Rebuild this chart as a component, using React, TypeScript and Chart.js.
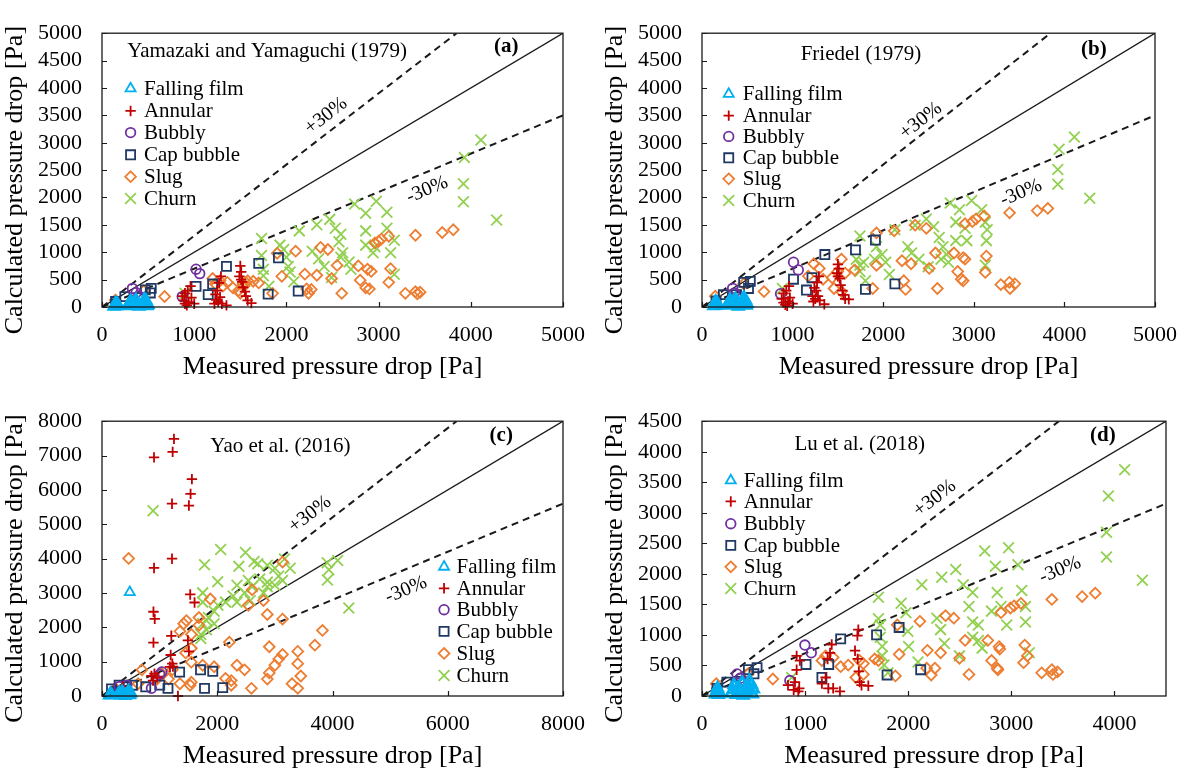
import React, { useEffect, useRef } from 'react';
import { Chart, registerables } from 'chart.js';

Chart.register(...registerables);

const FONT = '"Liberation Serif", "Times New Roman", serif';
Chart.defaults.font.family = FONT;
Chart.defaults.color = '#000';

type Pt = [number, number];

// ---------------- Series definitions ----------------
const seriesLabels = ['Falling film', 'Annular', 'Bubbly', 'Cap bubble', 'Slug', 'Churn'];
const seriesColors = ['#00B0F0', '#C00000', '#7030A0', '#1F3864', '#ED7D31', '#92D050'];
const seriesStyles = ['triangle', 'cross', 'circle', 'rect', 'rectRot', 'crossRot'];
const seriesRadius = [5.8, 5.2, 4.8, 6.4, 5.4, 7.6];

// ---------------- Panel (a) Yamazaki and Yamaguchi (1979) ----------------
const fallingA: Pt[] = [[130,10],[140,40],[150,70],[160,20],[170,50],[280,20],[300,60],[310,110],[330,30],[350,80],[370,130],[390,40],[400,10],[440,30],[450,90],[460,140],[470,60],[480,110],[490,20],[500,40]];
const annularA: Pt[] = [[870,200],[890,120],[900,60],[920,30],[940,90],[930,300],[960,380],[900,250],[970,170],[1000,60],[1220,60],[1240,130],[1260,90],[1280,180],[1300,60],[1350,30],[1250,300],[1270,440],[1290,560],[1230,230],[1500,750],[1510,640],[1490,560],[1520,460],[1530,360],[1560,200],[1580,120],[1620,70],[1550,280],[1510,500]];
const bubblyA: Pt[] = [[330,340],[370,260],[400,200],[870,190],[1020,690],[1060,610]];
const capA: Pt[] = [[147,100],[248,189],[401,172],[470,313],[534,340],[524,256],[1020,376],[1152,225],[1200,420],[1350,742],[1700,798],[1914,899],[1802,236],[2128,292]];
const slugA: Pt[] = [[144,124],[453,292],[679,191],[1200,520],[1230,420],[1280,480],[1310,380],[1360,450],[1420,350],[1480,300],[1500,250],[1530,420],[1540,380],[1560,450],[1580,480],[1640,470],[1700,440],[1850,250],[1900,980],[1950,560],[2100,1020],[2200,600],[2220,330],[2240,250],[2270,320],[2330,580],[2370,1090],[2450,1050],[2490,520],[2550,760],[2600,250],[2780,750],[2800,490],[2860,350],[2880,690],[2900,330],[2920,650],[2960,1170],[3000,1200],[3030,1240],[3110,1290],[3110,450],[3130,700],[3290,250],[3400,1310],[3400,280],[3420,240],[3450,270],[3690,1360],[3810,1410]];
const churnA: Pt[] = [[4110,3050],[3930,2730],[3920,2250],[3920,1920],[4280,1590],[2740,1880],[2975,1930],[2860,1710],[3090,1730],[2470,1600],[2330,1500],[2140,1390],[1730,1250],[1930,1130],[1970,1050],[2530,1440],[2590,1330],[2570,1190],[2610,990],[2590,910],[2680,820],[2700,690],[2860,1390],[2860,1130],[2960,1100],[2940,990],[3090,1440],[3170,1220],[3130,990],[3170,600],[2280,1020],[2350,880],[2410,740],[2490,540],[2020,740],[2040,640],[2080,460],[2000,910],[1730,940],[1750,690],[1750,570],[1810,380],[900,250]];

// ---------------- Panel (b) Friedel (1979) ----------------
const fallingB: Pt[] = [[130,20],[140,60],[150,100],[160,30],[170,70],[280,30],[300,80],[310,130],[330,40],[350,100],[370,150],[390,60],[400,10],[440,40],[450,110],[460,170],[470,80],[480,130],[490,30],[500,60]];
const annularB: Pt[] = [[880,150],[900,80],[920,40],[940,20],[950,100],[930,300],[960,380],[900,250],[970,170],[1000,60],[1230,100],[1250,150],[1280,200],[1300,120],[1350,50],[1260,300],[1270,450],[1290,560],[1220,200],[1240,350],[1500,780],[1510,700],[1490,620],[1520,520],[1530,400],[1560,220],[1580,150],[1620,140],[1550,300],[1500,560]];
const bubblyB: Pt[] = [[338,340],[358,254],[867,242],[1010,817],[1063,676]];
const capB: Pt[] = [[155,113],[236,225],[379,225],[460,451],[533,468],[513,338],[1010,507],[1153,310],[1214,535],[1356,958],[1694,1043],[1914,1223],[1804,321],[2129,423]];
const slugB: Pt[] = [[147,197],[460,423],[684,282],[1173,564],[1234,789],[1295,705],[1336,507],[1437,535],[1457,338],[1498,648],[1539,873],[1539,282],[1580,620],[1685,676],[1885,338],[1926,761],[1926,1353],[2121,1392],[2207,845],[2227,479],[2247,321],[2308,789],[2353,1494],[2476,1437],[2508,705],[2577,986],[2598,338],[2781,986],[2822,648],[2862,507],[2883,479],[2883,902],[2903,873],[2903,1522],[2984,1561],[3025,1607],[3115,1663],[3127,631],[3139,930],[3298,410],[3392,451],[3400,338],[3395,1720],[3453,423],[3700,1760],[3817,1800]];
const churnB: Pt[] = [[4110,3105],[3941,2880],[3927,2510],[3927,2240],[4280,1985],[2740,1900],[2976,1945],[2842,1776],[3086,1776],[3127,1550],[3147,1409],[3139,1212],[3127,761],[2801,1550],[2903,1437],[2923,1212],[2801,1212],[2476,1607],[2353,1494],[2129,1409],[1743,1296],[1926,1099],[1987,958],[2027,817],[2068,592],[1905,873],[1783,817],[1743,648],[1804,479],[1702,873],[1743,761],[2272,1099],[2313,986],[2394,873],[2496,733],[2557,1465],[2618,1268],[2659,1099],[2700,958],[2638,873],[2720,817],[888,338]];

// ---------------- Panel (c) Yao et al. (2016) ----------------
const fallingC: Pt[] = [[130,20],[150,60],[170,30],[280,40],[300,90],[330,20],[350,120],[380,50],[400,10],[440,60],[460,140],[480,30],[500,80],[482,3020]];
const annularC: Pt[] = [[1249,7485],[1226,7107],[903,6946],[1560,6315],[1537,5884],[1215,5598],[1508,5544],[903,3728],[1215,3997],[1531,2957],[1606,2722],[893,2453],[915,2245],[893,1555],[1203,1752],[1491,1617],[1508,1302],[1192,1194],[1232,854],[1220,941],[858,585],[886,450],[957,538],[910,650],[1180,850],[1318,0],[360,270]];
const bubblyC: Pt[] = [[297,269],[429,314],[858,224],[1002,628],[1040,700]];
const capC: Pt[] = [[165,206],[231,134],[297,314],[429,269],[528,314],[759,269],[1002,315],[1145,224],[1347,693],[1710,763],[1922,720],[1779,224],[2095,243]];
const slugC: Pt[] = [[462,4005],[1880,2823],[1418,2106],[1464,2195],[1352,1882],[1550,1792],[1682,2285],[1682,2061],[1451,1254],[1550,1389],[1550,986],[693,762],[1748,896],[1946,851],[2144,511],[2210,1568],[2342,896],[2474,762],[2593,224],[2243,314],[2243,448],[2869,2374],[2903,1434],[2869,493],[2903,672],[3000,896],[3066,1075],[3133,1210],[3133,2240],[3694,1479],[3826,1909],[3397,1299],[3397,941],[3450,582],[3397,224],[3298,358],[2803,2778],[2606,3091],[2540,2643],[3133,3898],[1154,493],[1022,672],[957,493],[231,224],[1220,762],[1352,358],[1530,314],[1550,403],[627,358]];
const churnC: Pt[] = [[886,5391],[2059,4267],[2490,4178],[1779,3819],[2375,3774],[2639,3916],[2704,3853],[2869,3808],[3000,3719],[3166,3987],[2008,3324],[2342,3226],[2540,3360],[2737,3405],[2869,3315],[3000,3226],[3133,3360],[2869,3181],[2606,3181],[2474,3002],[2276,2912],[2144,2733],[2012,2643],[1946,2464],[1847,2285],[1748,3002],[1748,2733],[1748,2106],[1814,1927],[1715,1792],[1715,1676],[1814,2195],[1946,2106],[2342,2733],[2573,2778],[2803,3002],[3066,3495],[3265,3719],[3908,3881],[3938,3674],[3912,3378],[4090,3943],[4283,2561]];

// ---------------- Panel (d) Lu et al. (2018) ----------------
const fallingD: Pt[] = [[130,30],[140,80],[150,130],[160,20],[170,60],[280,40],[300,100],[310,180],[330,20],[350,130],[370,70],[390,220],[400,10],[440,40],[450,150],[460,250],[470,90],[480,190],[490,30],[500,110]];
const annularD: Pt[] = [[834,177],[889,101],[902,227],[918,429],[950,580],[918,657],[934,76],[943,126],[1163,202],[1199,303],[1225,126],[1242,707],[1258,843],[1218,607],[1272,126],[1338,76],[1516,1086],[1507,989],[1484,742],[1510,607],[1521,404],[1529,227],[1547,177],[1613,167]];
const bubblyD: Pt[] = [[340,361],[370,290],[852,253],[998,834],[1060,708]];
const capD: Pt[] = [[146,126],[241,227],[377,238],[450,430],[534,465],[504,364],[1009,516],[1163,303],[1229,516],[1345,935],[1693,1001],[1912,1122],[1795,344],[2121,430]];
const slugD: Pt[] = [[3814,1684],[3686,1628],[3393,1582],[3093,1517],[3027,1476],[2991,1441],[2900,1365],[2772,910],[2881,809],[2888,768],[2808,581],[2863,455],[2870,430],[3130,834],[3119,546],[3156,657],[3294,379],[3393,430],[3404,354],[3448,394],[2589,354],[2552,910],[2497,617],[2442,1274],[2362,1315],[2113,1223],[2186,748],[2314,708],[2223,344],[2179,455],[2259,455],[1912,683],[1894,1163],[1876,329],[1711,581],[1675,607],[1565,531],[1565,354],[1492,303],[1529,581],[1199,657],[1163,581],[1272,632],[1345,480],[1418,506],[687,278],[450,364],[139,202]];
const churnD: Pt[] = [[4099,3706],[3941,3276],[3923,2680],[3923,2275],[4271,1896],[2742,2376],[2973,2427],[3064,2149],[2845,2124],[2461,2073],[2534,1820],[2325,1946],[2132,1820],[2625,1694],[2863,1694],[3101,1729],[3137,1466],[3137,1213],[3174,708],[2589,1466],[2808,1390],[2900,1466],[2955,1163],[2625,1213],[2680,1163],[2625,961],[2680,910],[2717,784],[2497,657],[2314,1087],[2351,860],[2278,1274],[1931,1517],[1978,1365],[1996,1062],[2004,809],[2095,556],[1711,1618],[1711,1264],[1729,1163],[1729,961],[1748,809],[1748,657],[1766,506],[1803,379],[870,303]];

// ---------------- Axis ticks ----------------
const ticks5000 = [0, 1000, 2000, 3000, 4000, 5000];
const ticksY5000 = [0, 500, 1000, 1500, 2000, 2500, 3000, 3500, 4000, 4500, 5000];
const ticks8000 = [0, 2000, 4000, 6000, 8000];
const ticksY8000 = [0, 1000, 2000, 3000, 4000, 5000, 6000, 7000, 8000];
const ticksX4500 = [0, 1000, 2000, 3000, 4000];
const ticksY4500 = [0, 500, 1000, 1500, 2000, 2500, 3000, 3500, 4000, 4500];

const xTitle = 'Measured pressure drop [Pa]';
const yTitle = 'Calculated pressure drop [Pa]';

interface Panel {
  key: string;
  canvas: { left: number; top: number; w: number; h: number };
  area: { L: number; T: number; R: number; B: number };
  max: number;
  xTicks: number[];
  yTicks: number[];
  data: Pt[][];
  title: string;
  titlePos: [number, number];
  letter: string;
  letterPos: [number, number];
  legend: { mx: number; tx: number; rows: number[] };
  plusPos: [number, number];
  minusPos: [number, number];
}

const panels: Panel[] = [
  {
    key: 'a', canvas: { left: 0, top: 0, w: 600, h: 388 }, area: { L: 102, T: 9, R: 566, B: 307 },
    max: 5000, xTicks: ticks5000, yTicks: ticksY5000,
    data: [fallingA, annularA, bubblyA, capA, slugA, churnA],
    title: 'Yamazaki and Yamaguchi (1979)', titlePos: [0.358, 0.067],
    letter: '(a)', letterPos: [0.877, 0.05],
    legend: { mx: 0.062, tx: 0.091, rows: [0.202, 0.284, 0.363, 0.444, 0.524, 0.604] },
    plusPos: [2430, 3490], minusPos: [3527, 2140],
  },
  {
    key: 'b', canvas: { left: 600, top: 0, w: 592, h: 388 }, area: { L: 702, T: 9, R: 1166, B: 307 },
    max: 5000, xTicks: ticks5000, yTicks: ticksY5000,
    data: [fallingB, annularB, bubblyB, capB, slugB, churnB],
    title: 'Friedel (1979)', titlePos: [0.351, 0.076],
    letter: '(b)', letterPos: [0.865, 0.059],
    legend: { mx: 0.059, tx: 0.09, rows: [0.222, 0.301, 0.377, 0.455, 0.532, 0.611] },
    plusPos: [2415, 3400], minusPos: [3522, 2085],
  },
  {
    key: 'c', canvas: { left: 0, top: 388, w: 600, h: 383 }, area: { L: 102, T: 398, R: 566, B: 696 },
    max: 8000, xTicks: ticks8000, yTicks: ticksY8000,
    data: [fallingC, annularC, bubblyC, capC, slugC, churnC],
    title: 'Yao et al. (2016)', titlePos: [0.387, 0.093],
    letter: '(c)', letterPos: [0.866, 0.054],
    legend: { mx: 0.742, tx: 0.769, rows: [0.53, 0.608, 0.686, 0.765, 0.845, 0.925] },
    plusPos: [3608, 5286], minusPos: [5276, 3090],
  },
  {
    key: 'd', canvas: { left: 600, top: 388, w: 592, h: 383 }, area: { L: 702, T: 398, R: 1166, B: 696 },
    max: 4500, xTicks: ticksX4500, yTicks: ticksY4500,
    data: [fallingD, annularD, bubblyD, capD, slugD, churnD],
    title: 'Lu et al. (2018)', titlePos: [0.34, 0.084],
    letter: '(d)', letterPos: [0.864, 0.054],
    legend: { mx: 0.062, tx: 0.09, rows: [0.216, 0.292, 0.373, 0.452, 0.530, 0.609] },
    plusPos: [2258, 3236], minusPos: [3474, 2063],
  },
];

function drawMarker(ctx: CanvasRenderingContext2D, style: string, x: number, y: number, r: number) {
  ctx.beginPath();
  switch (style) {
    case 'triangle': {
      let rad = 0;
      ctx.moveTo(x + Math.sin(rad) * r, y - Math.cos(rad) * r);
      rad += (2 * Math.PI) / 3;
      ctx.lineTo(x + Math.sin(rad) * r, y - Math.cos(rad) * r);
      rad += (2 * Math.PI) / 3;
      ctx.lineTo(x + Math.sin(rad) * r, y - Math.cos(rad) * r);
      ctx.closePath();
      break;
    }
    case 'cross':
      ctx.moveTo(x, y - r); ctx.lineTo(x, y + r);
      ctx.moveTo(x - r, y); ctx.lineTo(x + r, y);
      break;
    case 'crossRot': {
      const o = r * Math.SQRT1_2;
      ctx.moveTo(x - o, y - o); ctx.lineTo(x + o, y + o);
      ctx.moveTo(x - o, y + o); ctx.lineTo(x + o, y - o);
      break;
    }
    case 'circle':
      ctx.arc(x, y, r, 0, Math.PI * 2);
      ctx.closePath();
      break;
    case 'rect': {
      const s = r * Math.SQRT1_2;
      ctx.rect(x - s, y - s, 2 * s, 2 * s);
      break;
    }
    case 'rectRot':
      ctx.moveTo(x, y - r); ctx.lineTo(x + r, y); ctx.lineTo(x, y + r); ctx.lineTo(x - r, y);
      ctx.closePath();
      break;
  }
  ctx.stroke();
}

function makeDecor(p: Panel) {
  return {
    id: 'decor_' + p.key,
    afterDraw(chart: any) {
      const { ctx, chartArea: a, scales } = chart;
      const xs = scales.x;
      const ys = scales.y;
      const W = a.right - a.left;
      const H = a.bottom - a.top;
      ctx.save();
      // frame
      ctx.strokeStyle = '#1a1a1a';
      ctx.lineWidth = 1.3;
      ctx.setLineDash([]);
      ctx.strokeRect(a.left, a.top, W, H);
      // inner tick marks
      ctx.beginPath();
      for (const v of p.xTicks) {
        const px = Math.round(xs.getPixelForValue(v)) + 0.5;
        ctx.moveTo(px, a.bottom);
        ctx.lineTo(px, a.bottom - 5);
      }
      for (const v of p.yTicks) {
        const py = Math.round(ys.getPixelForValue(v)) + 0.5;
        ctx.moveTo(a.left, py);
        ctx.lineTo(a.left + 5, py);
      }
      ctx.lineWidth = 1.2;
      ctx.stroke();

      ctx.fillStyle = '#000';
      // axis titles
      ctx.font = `26px ${FONT}`;
      ctx.textAlign = 'center';
      ctx.textBaseline = 'middle';
      ctx.fillText(xTitle, (a.left + a.right) / 2, a.bottom + 60);
      ctx.save();
      ctx.translate(a.left - 87, (a.top + a.bottom) / 2 + 10);
      ctx.rotate(-Math.PI / 2);
      ctx.fillText(yTitle, 0, 0);
      ctx.restore();

      // panel title
      ctx.font = `21px ${FONT}`;
      ctx.fillText(p.title, a.left + p.titlePos[0] * W, a.top + p.titlePos[1] * H);
      ctx.font = `bold 21px ${FONT}`;
      ctx.fillText(p.letter, a.left + p.letterPos[0] * W, a.top + p.letterPos[1] * H);

      // ±30% labels
      const x0 = xs.getPixelForValue(0);
      const y0 = ys.getPixelForValue(0);
      const x1 = xs.getPixelForValue(p.max);
      const angle = (k: number) => Math.atan2(y0 - ys.getPixelForValue(k * p.max), x1 - x0);
      ctx.font = `20px ${FONT}`;
      const lbl = (text: string, pos: [number, number], k: number) => {
        ctx.save();
        ctx.translate(xs.getPixelForValue(pos[0]), ys.getPixelForValue(pos[1]));
        ctx.rotate(-angle(k));
        ctx.fillText(text, 0, 0);
        ctx.restore();
      };
      lbl('+30%', p.plusPos, 1.3);
      lbl('-30%', p.minusPos, 0.7);

      // legend
      ctx.font = `21px ${FONT}`;
      ctx.textAlign = 'left';
      seriesLabels.forEach((label, i) => {
        const cy = a.top + p.legend.rows[i] * H;
        ctx.strokeStyle = seriesColors[i];
        ctx.lineWidth = 1.8;
        drawMarker(ctx, seriesStyles[i], a.left + p.legend.mx * W, cy, seriesRadius[i]);
        ctx.fillStyle = '#000';
        ctx.fillText(label, a.left + p.legend.tx * W, cy + 1);
      });
      ctx.restore();
    },
  };
}

function buildConfig(p: Panel): any {
  const max = p.max;
  const scatterSets = seriesLabels.map((label, i) => ({
    type: 'scatter',
    label,
    data: p.data[i].map(([x, y]) => ({ x, y })),
    pointStyle: seriesStyles[i],
    pointRadius: seriesRadius[i],
    // dense falling-film cluster near the origin is drawn with heavier strokes
    pointBorderWidth: i === 0 ? (c: any) => (c.raw && c.raw.y < 1000 ? 2.8 : 1.8) : 1.8,
    pointBorderColor: seriesColors[i],
    pointBackgroundColor: 'rgba(0,0,0,0)',
    borderColor: seriesColors[i],
    backgroundColor: 'rgba(0,0,0,0)',
    showLine: false,
    clip: false,
    order: 1,
  }));
  const lineBase = {
    type: 'line',
    pointRadius: 0,
    fill: false,
    showLine: true,
    borderColor: '#1a1a1a',
    order: 5,
  };
  const lines = [
    { ...lineBase, label: '1:1', data: [{ x: 0, y: 0 }, { x: max, y: max }], borderWidth: 1.3 },
    { ...lineBase, label: '+30%', data: [{ x: 0, y: 0 }, { x: max / 1.3, y: max }], borderWidth: 2, borderDash: [7, 5] },
    { ...lineBase, label: '-30%', data: [{ x: 0, y: 0 }, { x: max, y: max * 0.7 }], borderWidth: 2, borderDash: [7, 5] },
  ];
  const yAxisW = p.area.L - p.canvas.left;
  const xAxisH = p.canvas.top + p.canvas.h - p.area.B;
  return {
    type: 'scatter',
    data: { datasets: [...scatterSets, ...lines] },
    options: {
      responsive: false,
      animation: false,
      events: [],
      layout: {
        padding: {
          top: p.area.T - p.canvas.top,
          right: p.canvas.left + p.canvas.w - p.area.R,
          left: 0,
          bottom: 0,
        },
      },
      plugins: { legend: { display: false }, tooltip: { enabled: false } },
      scales: {
        x: {
          type: 'linear',
          min: 0,
          max,
          afterBuildTicks: (s: any) => { s.ticks = p.xTicks.map((v) => ({ value: v })); },
          afterFit: (s: any) => { s.height = xAxisH; },
          grid: { display: false, drawTicks: false },
          border: { display: false },
          ticks: {
            autoSkip: false, maxRotation: 0, padding: 15,
            font: { family: FONT, size: 22 }, color: '#000',
            callback: (v: any) => String(v),
          },
        },
        y: {
          type: 'linear',
          min: 0,
          max,
          afterBuildTicks: (s: any) => { s.ticks = p.yTicks.map((v) => ({ value: v })); },
          afterFit: (s: any) => { s.width = yAxisW; },
          grid: { display: false, drawTicks: false },
          border: { display: false },
          ticks: {
            autoSkip: false, padding: 20,
            font: { family: FONT, size: 22 }, color: '#000',
            callback: (v: any) => String(v),
          },
        },
      },
    },
    plugins: [makeDecor(p)],
  };
}

function PanelChart({ p }: { p: Panel }) {
  const ref = useRef<HTMLCanvasElement | null>(null);
  useEffect(() => {
    if (!ref.current) return;
    const chart = new Chart(ref.current, buildConfig(p));
    return () => chart.destroy();
  }, [p]);
  return (
    <canvas
      ref={ref}
      width={p.canvas.w}
      height={p.canvas.h}
      style={{ position: 'absolute', left: p.canvas.left, top: p.canvas.top, width: p.canvas.w, height: p.canvas.h }}
    />
  );
}

export default function App() {
  return (
    <div style={{ position: 'absolute', left: 0, top: 0, width: 1192, height: 771, background: '#fff' }}>
      {panels.map((p) => (
        <PanelChart key={p.key} p={p} />
      ))}
    </div>
  );
}
